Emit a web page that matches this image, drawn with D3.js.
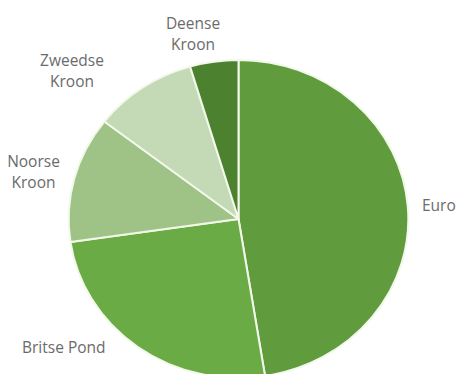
<!DOCTYPE html>
<html>
<head>
<meta charset="utf-8">
<script src="https://cdn.jsdelivr.net/npm/d3@7/dist/d3.min.js"></script>
<style>
  html, body { margin: 0; padding: 0; background: #fff; }
  svg { display: block; }
</style>
</head>
<body>
<svg id="chart" width="457" height="374"></svg>
<script>
// ---- data ----
const categories = ["Euro", "Britse Pond", "Noorse Kroon", "Zweedse Kroon", "Deense Kroon"];
const shares = [47.5, 25.2, 12.8, 9.9, 4.6];
const labelLines = [["Euro"], ["Britse Pond"], ["Noorse", "Kroon"], ["Zweedse", "Kroon"], ["Deense", "Kroon"]];

// ---- styling / layout ----
const colors = ["#609c3d", "#6aab45", "#9fc387", "#c4d9b6", "#4c822f"];
const labelPos = [
  { x: 422, y: 211, anchor: "start" },
  { x: 22, y: 353, anchor: "start" },
  { x: 33.5, y: 167, anchor: "middle" },
  { x: 72, y: 66, anchor: "middle" },
  { x: 193, y: 29, anchor: "middle" }
];
const cx = 238.5, cy = 219, ry = 159, sx = 1.068;

const svg = d3.select("#chart");
const data = categories.map((c, i) => ({ name: c, value: shares[i], color: colors[i], lines: labelLines[i], pos: labelPos[i] }));

const pie = d3.pie().sort(null).value(d => d.value).startAngle(0).endAngle(2 * Math.PI);
const arc = d3.arc().innerRadius(0).outerRadius(ry);

const g = svg.append("g").attr("transform", `translate(${cx},${cy}) scale(${sx},1)`);
g.selectAll("path")
  .data(pie(data))
  .join("path")
  .attr("d", arc)
  .attr("fill", d => d.data.color)
  .attr("stroke", "#f2f8ea")
  .attr("stroke-width", 2)
  .attr("vector-effect", "non-scaling-stroke")
  .attr("stroke-linejoin", "round");

const lab = svg.append("g")
  .attr("font-family", "'Open Sans', sans-serif")
  .attr("font-size", 15.5)
  .attr("fill", "#6b6b6b");

data.forEach(d => {
  const t = lab.append("text")
    .attr("x", d.pos.x)
    .attr("y", d.pos.y)
    .attr("text-anchor", d.pos.anchor);
  d.lines.forEach((line, i) => {
    t.append("tspan").attr("x", d.pos.x).attr("dy", i === 0 ? 0 : 21).text(line);
  });
});
</script>
</body>
</html>
